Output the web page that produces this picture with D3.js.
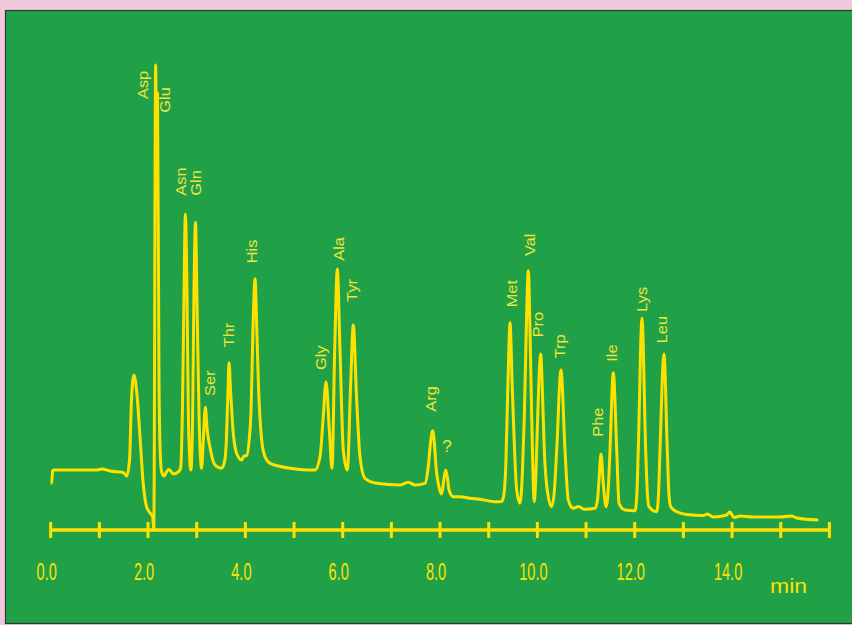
<!DOCTYPE html>
<html>
<head>
<meta charset="utf-8">
<script src="https://cdn.jsdelivr.net/npm/d3@7"></script>
<style>
  html, body { margin: 0; padding: 0; background: #f0c8dc; }
  svg { display: block; }
</style>
</head>
<body>
<svg id="chart" width="852" height="625"></svg>
<script>
// ---- Data ----
// retention time (min)
const times = [
  0.00, 0.02, 0.04, 0.06, 0.50, 0.95, 1.05, 1.22, 1.49, 1.56,
  1.62, 1.66, 1.71, 1.77, 1.83, 1.90, 1.97, 2.075, 2.095, 2.118,
  2.157, 2.174, 2.194, 2.225, 2.252, 2.28, 2.33, 2.39, 2.43, 2.52,
  2.62, 2.67, 2.71, 2.74, 2.766, 2.80, 2.83, 2.88, 2.915, 2.944,
  2.975, 3.005, 3.05, 3.10, 3.136, 3.177, 3.216, 3.27, 3.376, 3.51,
  3.57, 3.61, 3.64, 3.664, 3.695, 3.752, 3.82, 3.925, 3.97, 4.027,
  4.078, 4.115, 4.156, 4.198, 4.235, 4.265, 4.335, 4.403, 4.506, 4.676,
  4.917, 5.122, 5.43, 5.533, 5.60, 5.657, 5.725, 5.78, 5.835, 5.889,
  5.944, 6.012, 6.094, 6.164, 6.217, 6.287, 6.355, 6.458, 6.698, 7.177,
  7.348, 7.485, 7.69, 7.758, 7.81, 7.849, 7.886, 7.917, 7.985, 8.034,
  8.077, 8.116, 8.153, 8.184, 8.272, 8.41, 8.615, 8.82, 9.129, 9.266,
  9.31, 9.35, 9.397, 9.438, 9.479, 9.505, 9.575, 9.643, 9.694, 9.731,
  9.777, 9.813, 9.848, 9.883, 9.937, 9.972, 10.006, 10.068, 10.109, 10.142,
  10.212, 10.294, 10.35, 10.397, 10.485, 10.567, 10.635, 10.738, 10.84, 10.978,
  11.184, 11.235, 11.262, 11.307, 11.354, 11.41, 11.455, 11.492, 11.56, 11.63,
  11.677, 11.80, 12.006, 12.043, 12.073, 12.149, 12.225, 12.262, 12.293, 12.451,
  12.488, 12.519, 12.601, 12.669, 12.704, 12.739, 12.862, 13.068, 13.409, 13.491,
  13.614, 13.889, 13.957, 14.039, 14.163, 14.436, 14.985, 15.226, 15.328, 15.772
];
// detector signal (arbitrary units)
const signal = [
  47, 47, 59, 60, 60, 60, 61, 59, 57.5, 54,
  70, 130, 155, 137, 97, 47, 23.3, 15, 13.5, 0,
  465, 370, 437, 150, 75, 58, 54, 59, 60.5, 56,
  58, 62, 130, 240, 315.7, 240, 110, 60, 110, 240,
  307.7, 230, 110, 61.7, 90, 122.7, 100, 83.3, 65, 61.7,
  68, 90, 135, 167.3, 140, 96.7, 76.7, 70, 74, 74.5,
  90, 117, 200, 251.3, 200, 150, 90, 73.3, 66.7, 64,
  61.7, 60.5, 60, 73, 113.3, 148.3, 100, 61.7, 180, 261,
  180, 80, 60, 146.7, 205, 130, 73.3, 51.7, 46.7, 45,
  47.7, 45, 46.7, 63.3, 90, 99.3, 85, 63.3, 41.7, 36,
  50, 60, 52, 40, 33.3, 33.3, 31.7, 30.7, 28.3, 28.5,
  35, 63.3, 150, 207.3, 150, 113.3, 40, 26.7, 60, 113.3,
  210, 259.3, 200, 113.3, 28.3, 60, 113.3, 176, 130, 80,
  36.7, 23.3, 40, 80, 160, 80, 30, 21.7, 23.5, 20.7,
  21.7, 30, 46.7, 76, 46.7, 23.3, 40, 80, 157.3, 80,
  26.7, 20, 19.3, 35, 80, 211.7, 80, 35, 23.3, 18.3,
  35, 80, 176, 80, 35, 23.3, 18.3, 15.5, 14.5, 16,
  13, 15, 18, 12.5, 14, 13, 13, 14, 12, 10
];
// peak annotations: name, label anchor time and signal level
const peakNames   = ["Asp", "Glu", "Asn", "Gln", "Ser", "Thr", "His", "Gly", "Ala", "Tyr", "Arg", "Met", "Val", "Pro", "Trp", "Phe", "Ile", "Lys", "Leu"];
const labelTimes  = [2.009, 2.451, 2.781, 3.088, 3.375, 3.766, 4.233, 5.657, 6.026, 6.294, 7.927, 9.575, 9.951, 10.115, 10.567, 11.347, 11.635, 12.258, 12.663];
const labelLevels = [431, 417.3, 334.3, 334.3, 134, 182.7, 266.7, 160, 269.3, 228.3, 118.3, 222.7, 274, 192.7, 171.7, 93.3, 168.3, 218.3, 186.7];
// unidentified peak
const unknownLabel = { text: "?", time: 8.14, level: 78.3 };
// axis
const tickValues = d3.range(0, 17, 1);
const tickLabels = ["0.0", "2.0", "4.0", "6.0", "8.0", "10.0", "12.0", "14.0"];
const tickLabelValues = [0, 2, 4, 6, 8, 10, 12, 14];
const unitLabel = "min";

// ---- Drawing ----
const yellow = "#ffe100";
const green = "#21a147";
const svg = d3.select("#chart");

svg.append("rect")
  .attr("x", 5.5).attr("y", 10.5)
  .attr("width", 900).attr("height", 613)
  .attr("fill", green)
  .attr("stroke", "#333").attr("stroke-width", 1.2);

const x = d3.scaleLinear().domain([0, 16]).range([50.7, 829.4]);
const y = d3.scaleLinear().domain([0, 470]).range([530, 60]);

// axis line & ticks
const axis = svg.append("g");
axis.append("line")
  .attr("x1", x(0)).attr("x2", x(16))
  .attr("y1", y(0)).attr("y2", y(0))
  .attr("stroke", yellow).attr("stroke-width", 3.5);
axis.selectAll("line.tick").data(tickValues).join("line")
  .attr("class", "tick")
  .attr("x1", d => x(d)).attr("x2", d => x(d))
  .attr("y1", y(0) - 8).attr("y2", y(0) + 8)
  .attr("stroke", yellow).attr("stroke-width", 3);

axis.selectAll("text.tl").data(tickLabelValues).join("text")
  .attr("class", "tl")
  .attr("transform", d => `translate(${x(d) - 4},580) scale(0.62,1)`)
  .attr("text-anchor", "middle")
  .attr("font-family", "Liberation Sans, Arial, sans-serif")
  .attr("font-size", 23.5)
  .attr("fill", yellow)
  .text((d, i) => tickLabels[i]);

svg.append("text")
  .attr("transform", "translate(770,593) scale(1.15,1)")
  .attr("font-family", "Liberation Sans, Arial, sans-serif")
  .attr("font-size", 20)
  .attr("fill", yellow)
  .text(unitLabel);

// chromatogram trace
const pts = times.map((t, i) => [t, signal[i]]);
const line = d3.line()
  .x(d => x(d[0]))
  .y(d => y(d[1]))
  .curve(d3.curveMonotoneX);

svg.append("path")
  .attr("d", line(pts))
  .attr("fill", "none")
  .attr("stroke", yellow)
  .attr("stroke-width", 3)
  .attr("stroke-linejoin", "round");

// peak labels (rotated)
svg.selectAll("text.peak").data(peakNames).join("text")
  .attr("class", "peak")
  .attr("transform", (d, i) => `translate(${x(labelTimes[i])},${y(labelLevels[i])}) rotate(-90) scale(1.17,1)`)
  .attr("font-family", "Liberation Sans, Arial, sans-serif")
  .attr("font-size", 14)
  .attr("fill", "#f2e43a")
  .text(d => d);

svg.append("text")
  .attr("x", x(unknownLabel.time)).attr("y", y(unknownLabel.level))
  .attr("text-anchor", "middle")
  .attr("font-family", "Liberation Sans, Arial, sans-serif")
  .attr("font-size", 17)
  .attr("fill", "#f2e43a")
  .text(unknownLabel.text);
</script>
</body>
</html>
